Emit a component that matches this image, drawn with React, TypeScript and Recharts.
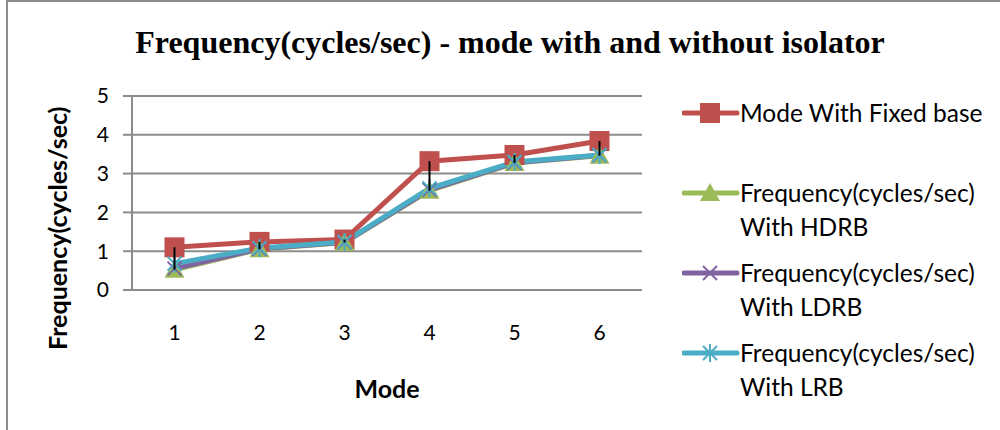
import React from 'react';
import { LineChart, Line, XAxis, YAxis, CartesianGrid, ErrorBar } from 'recharts';

const modes = ['1', '2', '3', '4', '5', '6'];
const fixedBase = [1.1, 1.24, 1.3, 3.32, 3.48, 3.84];
const hdrb = [0.52, 1.05, 1.22, 2.56, 3.27, 3.46];
const ldrb = [0.55, 1.06, 1.23, 2.58, 3.28, 3.47];
const lrb = [0.68, 1.08, 1.24, 2.62, 3.3, 3.48];
const yTicks = [0, 1, 2, 3, 4, 5];

const series = [
  { key: 'fixed', lines: ['Mode With Fixed base'], color: '#C0504D', shape: 'square' },
  { key: 'hdrb', lines: ['Frequency(cycles/sec)', 'With HDRB'], color: '#9BBB59', shape: 'triangle' },
  { key: 'ldrb', lines: ['Frequency(cycles/sec)', 'With LDRB'], color: '#8064A2', shape: 'x' },
  { key: 'lrb', lines: ['Frequency(cycles/sec)', 'With LRB'], color: '#4BACC6', shape: 'star' },
];

// high-low line: from the fixed base value down to the lowest isolator value
const data = modes.map((m, i) => {
  const low = Math.min(hdrb[i], ldrb[i], lrb[i]);
  return {
    mode: m,
    fixed: fixedBase[i],
    hdrb: hdrb[i],
    ldrb: ldrb[i],
    lrb: lrb[i],
    hiLo: fixedBase[i],
    hiLoErr: [fixedBase[i] - low, 0],
  };
});

const FONT = 'Lato, "Liberation Sans", sans-serif';
const GRID = '#8c8c8c';

function Marker({ cx, cy, shape, color }: { cx: number; cy: number; shape: string; color: string }) {
  if (cx == null || cy == null) return null;
  if (shape === 'square') {
    return <rect x={cx - 10} y={cy - 10} width={20} height={20} fill={color} />;
  }
  if (shape === 'triangle') {
    return <polygon points={`${cx},${cy - 10} ${cx + 10},${cy + 8} ${cx - 10},${cy + 8}`} fill={color} />;
  }
  const s = 7;
  return (
    <g stroke={color} strokeWidth={2}>
      <line x1={cx - s} y1={cy - s} x2={cx + s} y2={cy + s} />
      <line x1={cx - s} y1={cy + s} x2={cx + s} y2={cy - s} />
      {shape === 'star' && <line x1={cx} y1={cy - s - 2} x2={cx} y2={cy + s + 2} />}
    </g>
  );
}

function LegendBox() {
  return (
    <div style={{ position: 'absolute', left: 682, top: 96, fontFamily: FONT, fontSize: 24.5, color: '#000' }}>
      {series.map((s) => (
        <div key={s.key} style={{ height: 80, display: 'flex', alignItems: 'flex-start' }}>
          <svg width={58} height={34} style={{ flexShrink: 0 }}>
            <line x1={2} y1={17} x2={55} y2={17} stroke={s.color} strokeWidth={5} strokeLinecap="round" />
            <Marker cx={28} cy={17} shape={s.shape} color={s.color} />
          </svg>
          <div style={{ lineHeight: '34px', whiteSpace: 'nowrap' }}>
            {s.lines.map((t) => (
              <div key={t}>{t}</div>
            ))}
          </div>
        </div>
      ))}
    </div>
  );
}

export default function App() {
  return (
    <div style={{ position: 'absolute', left: 0, top: 0, width: 1000, height: 430, background: '#fff', overflow: 'hidden' }}>
      <div
        style={{
          position: 'absolute',
          left: 6,
          top: 0,
          width: 1000,
          height: 440,
          borderTop: `2px solid ${GRID}`,
          borderLeft: `2px solid ${GRID}`,
        }}
      />
      <div
        style={{
          position: 'absolute',
          left: 0,
          top: 24,
          width: 1020,
          textAlign: 'center',
          fontFamily: '"Liberation Serif", serif',
          fontWeight: 'bold',
          fontSize: 32,
          lineHeight: 1.15,
        }}
      >
        Frequency(cycles/sec) - mode with and without isolator
      </div>
      <LineChart
        width={1000}
        height={430}
        data={data}
        margin={{ top: 96, right: 358, bottom: 80, left: 0 }}
        style={{ position: 'absolute', left: 0, top: 0 }}
      >
        <CartesianGrid vertical={false} stroke={GRID} strokeWidth={2} />
        <XAxis
          dataKey="mode"
          height={60}
          padding={{ left: 42.5, right: 42.5 }}
          tickLine={false}
          axisLine={{ stroke: GRID, strokeWidth: 2 }}
          tickMargin={29}
          tick={{ fill: '#000', fontSize: 21, fontFamily: FONT }}
          label={{
            value: 'Mode',
            position: 'insideBottom',
            offset: 2,
            dy: 50,
            fill: '#000',
            fontSize: 25,
            fontWeight: 'bold',
            fontFamily: FONT,
          }}
        />
        <YAxis
          width={132}
          domain={[0, 5]}
          ticks={yTicks}
          interval={0}
          tickSize={9}
          tickLine={{ stroke: GRID, strokeWidth: 2 }}
          axisLine={{ stroke: GRID, strokeWidth: 2 }}
          tickMargin={14}
          tick={{ fill: '#000', fontSize: 21, fontFamily: FONT }}
          label={{
            value: 'Frequency(cycles/sec)',
            angle: -90,
            position: 'insideLeft',
            offset: 58,
            dy: 157,
            fill: '#000',
            fontSize: 25,
            fontWeight: 'bold',
            fontFamily: FONT,
          }}
        />
        {series.map((s) => (
          <Line
            key={s.key}
            dataKey={s.key}
            name={s.lines.join(' ')}
            stroke={s.color}
            strokeWidth={5}
            isAnimationActive={false}
            dot={(p: any) => <Marker key={`${s.key}-${p.index}`} cx={p.cx} cy={p.cy} shape={s.shape} color={s.color} />}
            activeDot={false}
          />
        ))}
        <Line
          dataKey="hiLo"
          stroke="none"
          dot={false}
          activeDot={false}
          legendType="none"
          isAnimationActive={false}
          zIndex={2000}
        >
          <ErrorBar
            dataKey="hiLoErr"
            width={0}
            stroke="#000"
            strokeWidth={2}
            isAnimationActive={false}
            zIndex={2000}
          />
        </Line>
      </LineChart>
      <LegendBox />
    </div>
  );
}
